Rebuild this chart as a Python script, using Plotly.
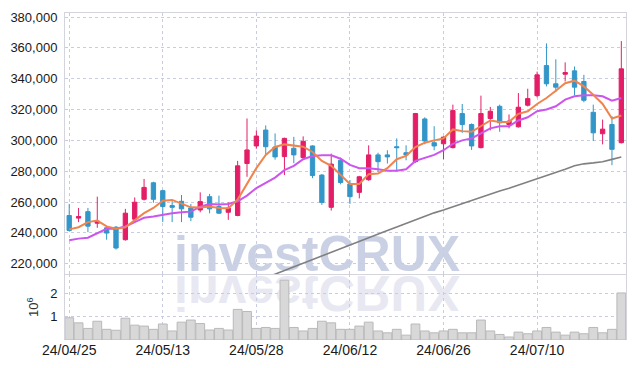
import plotly.graph_objects as go

dates = ["24/04/25", "24/04/26", "24/04/29", "24/04/30", "24/05/02", "24/05/03", "24/05/07", "24/05/08", "24/05/09", "24/05/10",
         "24/05/13", "24/05/14", "24/05/16", "24/05/17", "24/05/20", "24/05/21", "24/05/22", "24/05/23", "24/05/24", "24/05/27",
         "24/05/28", "24/05/29", "24/05/30", "24/05/31", "24/06/03", "24/06/04", "24/06/05", "24/06/07", "24/06/10", "24/06/11",
         "24/06/12", "24/06/13", "24/06/14", "24/06/17", "24/06/18", "24/06/19", "24/06/20", "24/06/21", "24/06/24", "24/06/25",
         "24/06/26", "24/06/27", "24/06/28", "24/07/01", "24/07/02", "24/07/03", "24/07/04", "24/07/05", "24/07/08", "24/07/09",
         "24/07/10", "24/07/11", "24/07/12", "24/07/15", "24/07/16", "24/07/17", "24/07/18", "24/07/19", "24/07/22", "24/07/23"]

open_ = [251300, 249600, 253800, 246300, 243300, 243700, 235600, 248900, 261800, 272500,
         267400, 257700, 260500, 256200, 254900, 263500, 257100, 253400, 251300, 285000,
         296400, 306700, 295700, 289500, 294900, 288800, 296400, 277500, 256600, 287100,
         271700, 266300, 274500, 290600, 290600, 295900, 292000, 286200, 313900, 298500,
         297800, 295300, 317400, 310300, 295300, 314200, 322100, 310300, 308800, 322800,
         329000, 348500, 336700, 342900, 345100, 338200, 318200, 304300, 310300, 298500]
high = [258800, 256200, 256200, 263500, 243800, 244500, 255600, 263000, 275000, 273200,
        268000, 261000, 264600, 258800, 266300, 265300, 264200, 259800, 286700, 314200,
        306500, 309700, 304500, 301800, 302300, 302600, 296800, 278200, 291400, 288800,
        274300, 277000, 296800, 292000, 293600, 301300, 296800, 317800, 315000, 309200,
        302600, 323200, 323600, 311000, 329000, 321700, 323200, 316800, 330700, 333500,
        344600, 362900, 352600, 350600, 347900, 342500, 323200, 313500, 315700, 364400]
low = [241000, 247000, 240500, 243300, 235600, 229200, 235000, 247000, 261000, 259600,
       247000, 247000, 247000, 247600, 253400, 252700, 252200, 248500, 250800, 276400,
       294600, 291000, 287500, 277500, 285200, 288000, 275500, 258200, 254500, 271500,
       258800, 262400, 273800, 279600, 285000, 280300, 287100, 285500, 297400, 293600,
       287800, 294800, 304900, 293800, 294800, 306500, 305600, 307800, 308300, 322000,
       327900, 335000, 331300, 338200, 329200, 324700, 299600, 297400, 283900, 298000]
close = [241600, 250600, 244400, 247600, 239900, 230200, 252800, 259900, 269500, 261800,
         257100, 256600, 255600, 250200, 260300, 255600, 252800, 256000, 283500, 293800,
         302800, 295900, 289300, 301300, 290600, 299400, 277200, 259800, 284600, 272700,
         263500, 276400, 290600, 286200, 289300, 295300, 290600, 317400, 299600, 296400,
         302100, 319300, 310300, 296400, 317400, 318900, 311400, 312500, 321500, 327100,
         342500, 336700, 334500, 344000, 334500, 326000, 304900, 307300, 294200, 346400]

ma5 = [242300, 243700, 247000, 248000, 244200, 242700, 243700, 248000, 252800, 256200,
       260900, 261400, 259200, 256600, 256400, 257100, 256200, 256000, 261600, 271700,
       282000, 290600, 295700, 297400, 296800, 295900, 292500, 286700, 283500, 277500,
       271700, 271700, 278100, 278500, 282000, 287800, 289900, 295700, 298500, 300000,
       301300, 307100, 306000, 305600, 309200, 312900, 312000, 312000, 317200, 318900,
       323600, 327500, 332200, 337100, 338700, 335000, 329600, 323600, 314200, 316100]
ma20 = [235200, 236300, 236900, 239900, 242700, 242700, 244200, 247000, 249800, 250600,
        251700, 252800, 253400, 253800, 257000, 258800, 258500, 258800, 260500, 264200,
        269100, 272700, 275900, 280700, 283500, 287800, 289900, 290400, 290400, 288100,
        284100, 282000, 282000, 281300, 280300, 280300, 281300, 286700, 288400, 290600,
        293600, 297800, 300000, 301300, 304600, 307800, 309200, 309200, 312900, 315000,
        318900, 320000, 322100, 326400, 328600, 329200, 329200, 328600, 325800, 327500]
ma_long = [None] * 21 + [
        210900, 213300, 215600, 218000, 220300, 222700, 225100, 227400, 229800,
        232200, 234500, 236900, 239200, 241600, 243900, 246200, 248600, 251100, 253000,
        254900, 257000, 259000, 261100, 263100, 265200, 267200, 269000, 271000, 273000,
        274900, 276900, 278800, 281300, 283600, 284800, 285400, 286200, 287700, 289200]

volume = [960000, 740000, 500000, 810000, 460000, 420000, 940000, 640000, 600000, 460000,
          690000, 390000, 770000, 860000, 710000, 430000, 500000, 430000, 1320000, 1230000,
          500000, 540000, 500000, 2580000, 540000, 390000, 500000, 810000, 740000, 460000,
          460000, 600000, 770000, 390000, 310000, 460000, 210000, 690000, 390000, 310000,
          390000, 460000, 310000, 310000, 860000, 390000, 240000, 130000, 340000, 270000,
          390000, 540000, 340000, 210000, 340000, 270000, 540000, 310000, 460000, 2030000]

price_ticks = [220000, 240000, 260000, 280000, 300000, 320000, 340000, 360000, 380000]
vol_ticks = [1000000, 2000000]
vol_tick_text = ["1", "2"]
date_tick_idx = [0, 10, 20, 30, 40, 50]

UP = "#e31e67"
DOWN = "#3396c8"
GRID = "#c9cbe0"
AXL = "#d4d4dc"
FONT = "Liberation Sans"

fig = go.Figure()
fig.add_trace(go.Candlestick(
    x=dates, open=open_, high=high, low=low, close=close,
    increasing=dict(line=dict(color=UP, width=1), fillcolor=UP),
    decreasing=dict(line=dict(color=DOWN, width=1), fillcolor=DOWN),
    xaxis="x", yaxis="y", showlegend=False, hoverinfo="skip"))
fig.add_trace(go.Scatter(x=dates, y=ma_long, mode="lines", line=dict(color="#808080", width=1.6),
                         xaxis="x", yaxis="y", showlegend=False, hoverinfo="skip"))
fig.add_trace(go.Scatter(x=dates, y=ma20, mode="lines", line=dict(color="#cc55ee", width=2),
                         xaxis="x", yaxis="y", showlegend=False, hoverinfo="skip"))
fig.add_trace(go.Scatter(x=dates, y=ma5, mode="lines", line=dict(color="#f0844c", width=2),
                         xaxis="x", yaxis="y", showlegend=False, hoverinfo="skip"))
fig.add_trace(go.Bar(x=dates, y=volume, marker=dict(color="#d8d8d8", line=dict(color="#b9b9b9", width=1)),
                     xaxis="x2", yaxis="y2", showlegend=False, hoverinfo="skip"))

split = 66 / 329
fig.update_layout(
    width=637, height=368,
    margin=dict(l=63, r=10, t=11, b=28),
    paper_bgcolor="white", plot_bgcolor="rgba(0,0,0,0)",
    font=dict(family=FONT, size=13, color="#1a1a1a"),
    bargap=0.06, boxgap=0.34,
    xaxis=dict(type="category", domain=[0, 1], anchor="y", range=[-0.45, 59.5],
               showticklabels=False, ticks="", rangeslider=dict(visible=False),
               showgrid=True, gridcolor=GRID, griddash="dot", gridwidth=1,
               tickvals=[dates[i] for i in date_tick_idx],
               showline=True, mirror=True, linecolor=AXL, linewidth=1, zeroline=False),
    yaxis=dict(domain=[split, 1], anchor="x", range=[213100, 382600],
               tickvals=price_ticks, tickformat=",d", ticks="",
               showgrid=True, gridcolor=GRID, griddash="dot", gridwidth=1,
               showline=True, mirror=True, linecolor=AXL, linewidth=1, zeroline=False,
               ticklabelstandoff=4),
    xaxis2=dict(type="category", domain=[0, 1], anchor="y2", matches="x", range=[-0.45, 59.5],
                tickvals=[dates[i] for i in date_tick_idx], ticktext=[dates[i] for i in date_tick_idx],
                ticks="", showgrid=True, gridcolor=GRID, griddash="dot", gridwidth=1,
                showline=False, zeroline=False, tickangle=0, tickfont=dict(size=14)),
    yaxis2=dict(domain=[0, split], anchor="x2", range=[0, 2830000],
                tickvals=vol_ticks, ticktext=vol_tick_text, ticks="",
                showgrid=True, gridcolor=GRID, griddash="dot", gridwidth=1,
                showline=True, mirror=True, linecolor=AXL, linewidth=1, zeroline=False,
                ticklabelstandoff=4,
                title=dict(text="10<sup>6</sup>", standoff=8, font=dict(size=13, color="#333"))),
    annotations=[
        dict(text="<b>investCRUX</b>", xref="paper", yref="paper", x=0.4495, y=0.170,
             xanchor="center", yanchor="bottom", showarrow=False,
             font=dict(family=FONT, size=50, color="#cad1e4")),
        dict(text="<b>investCRUX</b>", xref="paper", yref="paper", x=0.4495, y=0.234,
             xanchor="center", yanchor="top", showarrow=False,
             font=dict(family=FONT, size=50, color="#e8e8f2")),
    ],
)

post = """
(function(){
document.documentElement.style.margin = '0';
document.body.style.margin = '0';
document.body.style.padding = '0';
var gd = document.getElementById('{plot_id}');
try {
  var anns = gd.querySelectorAll('g.annotation');
  if (anns.length >= 2) {
    var t = anns[1].querySelector('text.annotation-text');
    var bb = t.getBBox();
    t.setAttribute('transform', 'translate(0,' + (2*bb.y + bb.height) + ') scale(1,-1)');
  }
  var paper = gd.querySelector('svg.main-svg');
  var cart = paper.querySelector('g.cartesianlayer');
  for (var i = 0; i < anns.length; i++) { cart.parentNode.insertBefore(anns[i], cart); }
} catch (e) {}
})();
"""

fig.write_html("out.html", post_script=post, config={"displayModeBar": False})
